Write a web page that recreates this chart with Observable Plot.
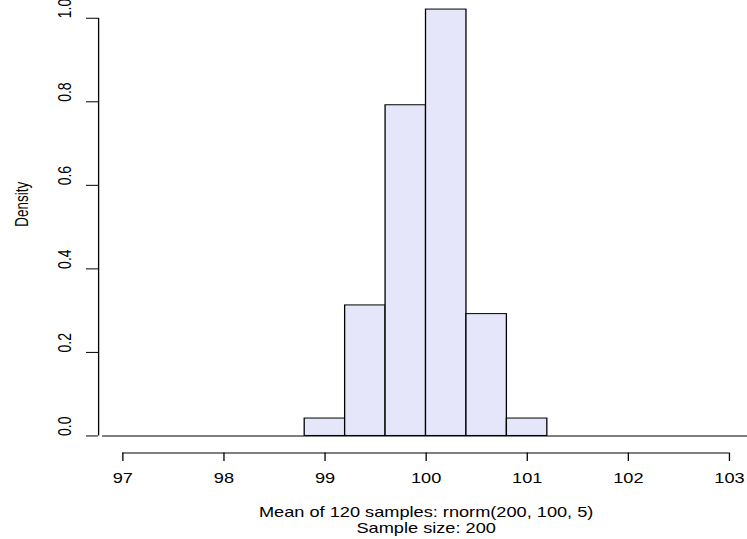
<!DOCTYPE html>
<html><head><meta charset="utf-8">
<script src="https://cdn.jsdelivr.net/npm/d3@7"></script>
<script src="https://cdn.jsdelivr.net/npm/@observablehq/plot@0.6"></script>
<style>body{margin:0;background:#fff} svg{display:block}</style>
</head><body><div id="chart"></div>
<script>
// Histogram data
const breaks = [96.8, 97.2, 97.6, 98.0, 98.4, 98.8, 99.2, 99.6, 100.0, 100.4, 100.8, 101.2, 101.6, 102.0, 102.4, 102.8, 103.2];
const density = [0, 0, 0, 0, 0, 0.0417, 0.3125, 0.7917, 1.0208, 0.2917, 0.0417, 0, 0, 0, 0, 0];
const xTicks = [97, 98, 99, 100, 101, 102, 103];
const yTicks = [0, 0.2, 0.4, 0.6, 0.8, 1.0];
const xLabel = "Mean of 120 samples: rnorm(200, 100, 5)";
const subLabel = "Sample size: 200";
const yLabel = "Density";

const bins = density.map((d, i) => ({x1: breaks[i], x2: breaks[i + 1], density: d}));
const xlim = [96.76, 103.18];
const ylim = [-0.0408, 1.0425];

// The original raster is stretched horizontally; draw at a narrower width and stretch the SVG.
const W = 575, H = 539, OUT_W = 747;

const chart = Plot.plot({
  width: W,
  height: H,
  marginLeft: 75.4,
  marginRight: 0,
  marginTop: 0,
  marginBottom: 86.5,
  style: {fontFamily: "'Liberation Sans', Arial, Helvetica, sans-serif", fontSize: "14px", background: "#fff", color: "#000"},
  x: {domain: xlim},
  y: {domain: ylim},
  marks: [
    Plot.rect(bins.filter(d => d.density > 0), {x1: "x1", x2: "x2", y1: 0, y2: "density", fill: "#E6E6FA", stroke: "#000", strokeWidth: 1}),
    Plot.ruleY([0], {x1: breaks[0], x2: breaks[breaks.length - 1], stroke: "#000", strokeWidth: 1}),
    // y axis
    Plot.ruleX([xlim[0]], {y1: yTicks[0], y2: yTicks[yTicks.length - 1], stroke: "#000"}),
    Plot.axisY({ticks: yTicks, tickSize: 9.2, tickFormat: () => "", label: null}),
    Plot.text(yTicks, {y: d => d, text: d => d.toFixed(1), frameAnchor: "left", dx: -25.4, rotate: -90, fontSize: 14}),
    Plot.text([yLabel], {frameAnchor: "left", dx: -58.7, rotate: -90, fontSize: 13.5}),
    // x axis
    Plot.ruleY([ylim[0]], {x1: xTicks[0], x2: xTicks[xTicks.length - 1], stroke: "#000"}),
    Plot.axisX({ticks: xTicks, tickSize: 8.5, tickPadding: 12, fontSize: 14, tickFormat: d => String(d), label: null}),
    Plot.text([xLabel + "\n" + subLabel], {x: 100, frameAnchor: "bottom", lineAnchor: "top", dy: 52, lineHeight: 1.19, fontSize: 14})
  ]
});
chart.setAttribute("width", OUT_W);
chart.setAttribute("height", H);
chart.setAttribute("viewBox", `0 0 ${W} ${H}`);
chart.setAttribute("preserveAspectRatio", "none");
chart.style.width = OUT_W + "px";
chart.style.height = H + "px";
document.getElementById("chart").append(chart);
</script>
</body></html>
